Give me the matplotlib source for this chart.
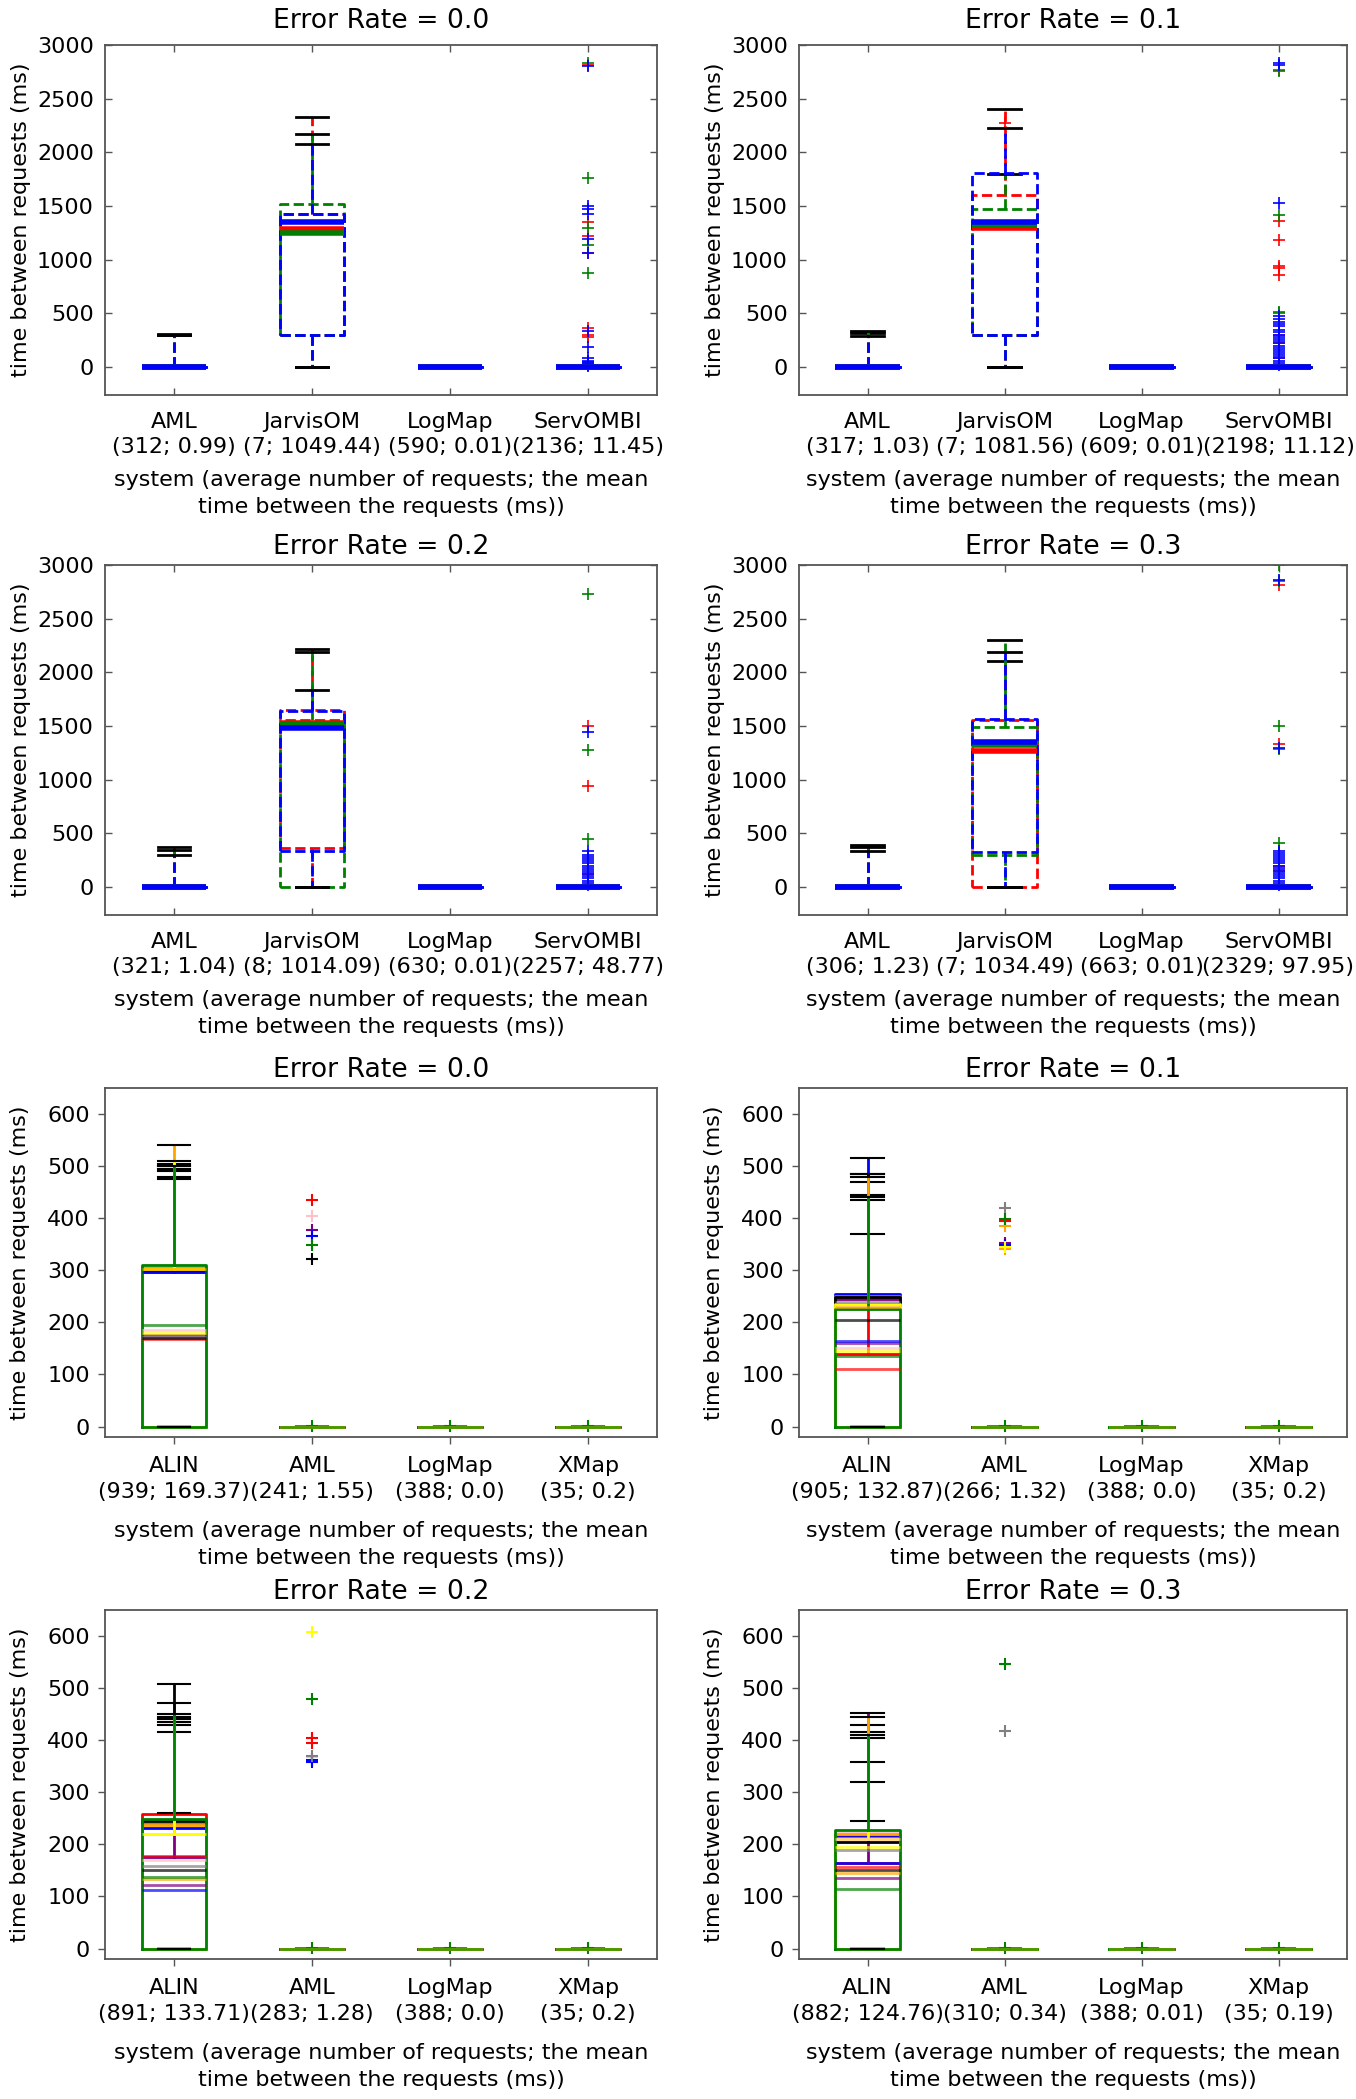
import matplotlib
matplotlib.use('Agg')
import matplotlib.pyplot as plt

W, H = 1356, 2099

top_systems = ['AML', 'JarvisOM', 'LogMap', 'ServOMBI']
bottom_systems = ['ALIN', 'AML', 'LogMap', 'XMap']
error_rates = ['0.0', '0.1', '0.2', '0.3']

top_colors = ['red', 'green', 'blue']
bottom_colors = ['red', 'pink', 'purple', 'blue', 'gray', 'black', 'orange', 'yellow', 'green']

# (average number of requests; mean time between the requests)
top_counts = [
    ['(312; 0.99)', '(7; 1049.44)', '(590; 0.01)', '(2136; 11.45)'],
    ['(317; 1.03)', '(7; 1081.56)', '(609; 0.01)', '(2198; 11.12)'],
    ['(321; 1.04)', '(8; 1014.09)', '(630; 0.01)', '(2257; 48.77)'],
    ['(306; 1.23)', '(7; 1034.49)', '(663; 0.01)', '(2329; 97.95)'],
]
bottom_counts = [
    ['(939; 169.37)', '(241; 1.55)', '(388; 0.0)', '(35; 0.2)'],
    ['(905; 132.87)', '(266; 1.32)', '(388; 0.0)', '(35; 0.2)'],
    ['(891; 133.71)', '(283; 1.28)', '(388; 0.0)', '(35; 0.2)'],
    ['(882; 124.76)', '(310; 0.34)', '(388; 0.01)', '(35; 0.19)'],
]

# ---- top group: rows = systems, cols = runs (red, green, blue)
t00_q1 = [[0, 0, 0], [300, 300, 300], [0, 0, 0], [0, 0, 0]]
t00_med = [[0, 0, 0], [1290, 1250, 1350], [0, 0, 0], [0, 0, 0]]
t00_q3 = [[0, 0, 0], [1430, 1520, 1430], [0, 0, 0], [0, 0, 0]]
t00_lo = [[0, 0, 0], [0, 0, 0], [0, 0, 0], [0, 0, 0]]
t00_hi = [[310, 300, 300], [2330, 2170, 2080], [0, 0, 0], [0, 0, 0]]
t00_fl = [[[], [], []], [[], [], []], [[], [], []],
          [[2810, 1350, 1220, 1060, 360, 300, 280],
           [2830, 1760, 1300, 1140, 880],
           [2800, 1500, 1470, 1430, 1190, 1060, 340, 190, 80, 60, 50, 40, 30, 20, 10]]]

t01_q1 = [[0, 0, 0], [300, 300, 300], [0, 0, 0], [0, 0, 0]]
t01_med = [[0, 0, 0], [1300, 1320, 1350], [0, 0, 0], [0, 0, 0]]
t01_q3 = [[0, 0, 0], [1600, 1470, 1810], [0, 0, 0], [0, 0, 0]]
t01_lo = [[0, 0, 0], [0, 0, 0], [0, 0, 0], [0, 0, 0]]
t01_hi = [[320, 340, 290], [2400, 1800, 2230], [0, 0, 0], [0, 0, 0]]
t01_fl = [[[], [], []], [[2270], [], []], [[], [], []],
          [[2770, 1360, 1180, 940, 920, 860, 300, 220, 80],
           [2760, 1420, 510, 500],
           [2830, 2810, 1530, 480, 450, 420, 400, 380, 350, 330, 300, 280, 260, 240,
            220, 200, 180, 160, 140, 120, 100, 80, 60, 40, 20]]]

t02_q1 = [[0, 0, 0], [360, 0, 340], [0, 0, 0], [0, 0, 0]]
t02_med = [[0, 0, 0], [1530, 1520, 1480], [0, 0, 0], [0, 0, 0]]
t02_q3 = [[0, 0, 0], [1650, 1560, 1640], [0, 0, 0], [0, 0, 0]]
t02_lo = [[0, 0, 0], [0, 0, 0], [0, 0, 0], [0, 0, 0]]
t02_hi = [[370, 345, 300], [2220, 2190, 1840], [0, 0, 0], [0, 0, 0]]
t02_fl = [[[], [], []], [[], [], []], [[], [], []],
          [[1500, 940, 120],
           [2730, 1280, 450],
           [1440, 340, 300, 280, 260, 240, 220, 200, 180, 160, 140, 120, 100, 80, 60, 40, 20]]]

t03_q1 = [[0, 0, 0], [0, 300, 330], [0, 0, 0], [0, 0, 0]]
t03_med = [[0, 0, 0], [1270, 1320, 1350], [0, 0, 0], [0, 0, 0]]
t03_q3 = [[0, 0, 0], [1560, 1490, 1570], [0, 0, 0], [0, 0, 0]]
t03_lo = [[0, 0, 0], [0, 0, 0], [0, 0, 0], [0, 0, 0]]
t03_hi = [[390, 370, 340], [2110, 2300, 2190], [0, 0, 0], [0, 0, 0]]
t03_fl = [[[], [], []], [[], [], []], [[], [], []],
          [[2810, 1330, 200, 150],
           [3000, 2850, 1500, 1290, 410],
           [2860, 1300, 340, 320, 300, 280, 260, 240, 220, 200, 180, 160, 140, 120,
            100, 80, 60, 40, 20]]]

# ---- bottom group: ALIN per run (red, pink, purple, blue, gray, black, orange, yellow, green)
b00_alin_q1 = [0, 0, 0, 0, 0, 0, 0, 0, 0]
b00_alin_med = [168, 185, 175, 297, 172, 170, 303, 180, 195]
b00_alin_q3 = [303, 300, 300, 297, 305, 300, 305, 302, 310]
b00_alin_hi = [495, 505, 490, 480, 475, 500, 540, 510, 500]
b00_aml_fl = [[435], [405], [378], [365], [], [322], [], [], [348, 1]]

b01_alin_q1 = [0, 0, 0, 0, 0, 0, 0, 0, 0]
b01_alin_med = [110, 150, 160, 165, 240, 205, 230, 145, 135]
b01_alin_q3 = [140, 235, 245, 255, 250, 248, 228, 235, 225]
b01_alin_hi = [485, 470, 445, 515, 435, 485, 480, 370, 440]
b01_aml_fl = [[395], [], [352], [348], [420], [], [385, 340], [345], [398, 1]]

b02_alin_q1 = [0, 0, 0, 0, 0, 0, 0, 0, 0]
b02_alin_med = [178, 170, 122, 112, 158, 150, 133, 220, 138]
b02_alin_q3 = [258, 240, 175, 232, 240, 245, 238, 220, 248]
b02_alin_hi = [415, 430, 260, 440, 472, 507, 435, 445, 450]
b02_aml_fl = [[405, 395], [368], [], [362, 358], [370], [], [], [607], [480, 1]]

b03_alin_q1 = [0, 0, 0, 0, 0, 0, 0, 0, 0]
b03_alin_med = [157, 210, 135, 165, 190, 150, 145, 195, 115]
b03_alin_q3 = [218, 222, 165, 215, 212, 205, 220, 210, 228]
b03_alin_hi = [405, 415, 452, 430, 358, 320, 445, 245, 410]
b03_aml_fl = [[], [], [], [], [418], [], [], [], [547, 1]]

# AML, LogMap and XMap stay at 0 in every run of the bottom group
b_flat = [0, 0, 0, 0, 0, 0, 0, 0, 0]
b_flat_fl = [[], [], [], [], [], [], [], [], [1]]

plt.rcParams['font.family'] = ['DejaVu Sans']
plt.rcParams['font.size'] = 16

fig = plt.figure(figsize=(W / 100, H / 100), dpi=100)


def rect(x0, y0, x1, y1):
    return [x0 / W, 1 - y1 / H, (x1 - x0) / W, (y1 - y0) / H]


cols = [(105, 657), (799, 1347)]
rows = [(45, 395), (565, 915), (1088, 1437), (1610, 1959)]
title_pads = [12, 8, 8, 8]

ylab = 'time between requests (ms)'
xlab = 'system (average number of requests; the mean\ntime between the requests (ms))'


def style_axes(ax, classic):
    for s in ax.spines.values():
        s.set_color('#555555')
        s.set_linewidth(1.3)
    if classic:
        ax.tick_params(direction='in', top=True, right=True, length=5, width=1,
                       color='#555555', pad=8)
        ax.tick_params(axis='x', pad=12)
    else:
        ax.tick_params(direction='out', length=5, width=1, color='#555555', pad=6)
        ax.tick_params(axis='x', pad=9)
    for lbl in ax.get_xticklabels():
        lbl.set_linespacing(1.35)


top_data = [
    (t00_q1, t00_med, t00_q3, t00_lo, t00_hi, t00_fl),
    (t01_q1, t01_med, t01_q3, t01_lo, t01_hi, t01_fl),
    (t02_q1, t02_med, t02_q3, t02_lo, t02_hi, t02_fl),
    (t03_q1, t03_med, t03_q3, t03_lo, t03_hi, t03_fl),
]

for k in range(4):
    r, c = k // 2, k % 2
    ax = fig.add_axes(rect(cols[c][0], rows[r][0], cols[c][1], rows[r][1]))
    q1, med, q3, lo, hi, fl = top_data[k]
    for j, col in enumerate(top_colors):
        stats = []
        for i in range(4):
            stats.append(dict(q1=q1[i][j], med=med[i][j], q3=q3[i][j],
                              whislo=lo[i][j], whishi=hi[i][j], fliers=fl[i][j]))
        ax.bxp(stats, positions=[1, 2, 3, 4], widths=0.47, manage_ticks=False,
               boxprops=dict(color=col, linestyle='--', linewidth=2),
               whiskerprops=dict(color=col, linestyle='--', linewidth=2),
               capprops=dict(color='black', linewidth=2),
               medianprops=dict(color=col, linewidth=4),
               flierprops=dict(marker='+', markersize=8, markeredgewidth=1.2,
                               markeredgecolor=col, linestyle='none'))
    ax.set_xlim(0.5, 4.5)
    ax.set_ylim(-260, 3000)
    ax.set_yticks([0, 500, 1000, 1500, 2000, 2500, 3000])
    ax.set_xticks([1, 2, 3, 4])
    ax.set_xticklabels([s + '\n' + n for s, n in zip(top_systems, top_counts[k])])
    ax.set_title('Error Rate = ' + error_rates[k], pad=title_pads[r])
    ax.set_ylabel(ylab, labelpad=4)
    ax.set_xlabel(xlab, labelpad=9, linespacing=1.45)
    style_axes(ax, True)

bottom_data = [
    (b00_alin_q1, b00_alin_med, b00_alin_q3, b00_alin_hi, b00_aml_fl),
    (b01_alin_q1, b01_alin_med, b01_alin_q3, b01_alin_hi, b01_aml_fl),
    (b02_alin_q1, b02_alin_med, b02_alin_q3, b02_alin_hi, b02_aml_fl),
    (b03_alin_q1, b03_alin_med, b03_alin_q3, b03_alin_hi, b03_aml_fl),
]

for k in range(4):
    r, c = 2 + k // 2, k % 2
    ax = fig.add_axes(rect(cols[c][0], rows[r][0], cols[c][1], rows[r][1]))
    q1, med, q3, hi, aml_fl = bottom_data[k]
    for j, col in enumerate(bottom_colors):
        stats = [dict(q1=q1[j], med=med[j], q3=q3[j], whislo=0, whishi=hi[j], fliers=[]),
                 dict(q1=b_flat[j], med=b_flat[j], q3=b_flat[j], whislo=b_flat[j],
                      whishi=b_flat[j], fliers=aml_fl[j]),
                 dict(q1=b_flat[j], med=b_flat[j], q3=b_flat[j], whislo=b_flat[j],
                      whishi=b_flat[j], fliers=b_flat_fl[j]),
                 dict(q1=b_flat[j], med=b_flat[j], q3=b_flat[j], whislo=b_flat[j],
                      whishi=b_flat[j], fliers=b_flat_fl[j])]
        ax.bxp(stats, positions=[1, 2, 3, 4], widths=0.47, manage_ticks=False,
               boxprops=dict(color=col, linewidth=2),
               whiskerprops=dict(color=col, linewidth=2),
               capprops=dict(color='black', linewidth=1.5),
               medianprops=dict(color=col, linewidth=2, alpha=0.7),
               flierprops=dict(marker='+', markersize=8, markeredgewidth=1.5,
                               markeredgecolor=col, linestyle='none'))
    ax.set_xlim(0.5, 4.5)
    ax.set_ylim(-20, 650)
    ax.set_yticks([0, 100, 200, 300, 400, 500, 600])
    ax.set_xticks([1, 2, 3, 4])
    ax.set_xticklabels([s + '\n' + n for s, n in zip(bottom_systems, bottom_counts[k])])
    ax.set_title('Error Rate = ' + error_rates[k], pad=title_pads[r])
    ax.set_ylabel(ylab, labelpad=12)
    ax.set_xlabel(xlab, labelpad=14, linespacing=1.4)
    style_axes(ax, False)

fig.savefig('out.png', dpi=100)
